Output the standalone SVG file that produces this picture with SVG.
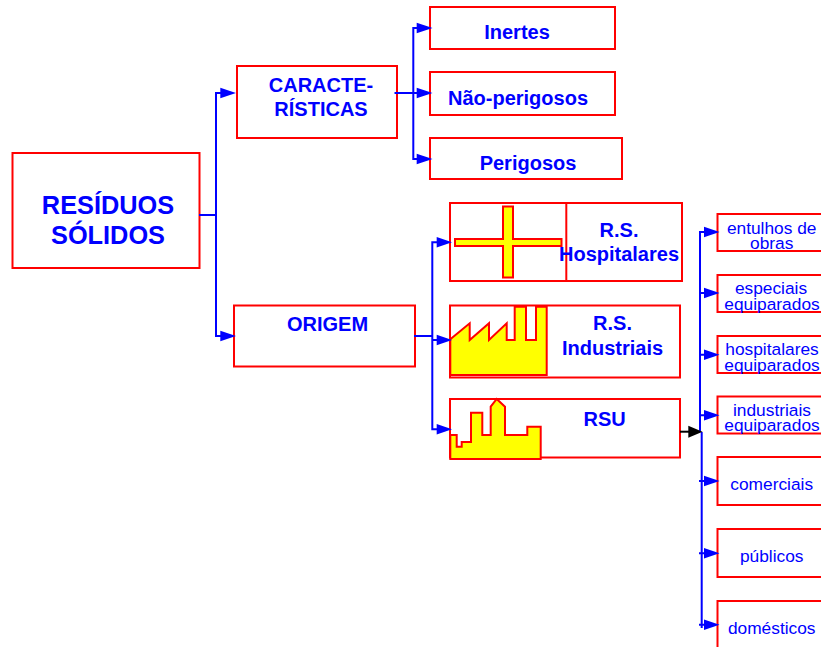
<svg xmlns="http://www.w3.org/2000/svg" width="821" height="647" viewBox="0 0 821 647">
<style>
.b{fill:#fff;stroke:#f00;stroke-width:2}
.i{fill:#ff0;stroke:#f00;stroke-width:2}
text{font-family:"Liberation Sans",Arial,sans-serif;fill:#00f;text-anchor:middle}
.h{font-weight:700;font-size:20px}
.s{font-size:17.33px}
.c path{fill:none;stroke:#00f;stroke-width:2}
.c polygon{fill:#00f}
</style>
<rect width="821" height="647" fill="#fff"/>
<g id="residuos"><rect class="b" x="12.500" y="153" width="187" height="115"/><text x="108" y="214" font-size="25.33" font-weight="700">RESÍDUOS</text><text x="108" y="244" font-size="25.33" font-weight="700">SÓLIDOS</text></g>
<g id="caracteristicas"><rect class="b" x="237" y="66" width="160" height="72"/><text class="h" x="321" y="92">CARACTE-</text><text class="h" x="321" y="116">RÍSTICAS</text></g>
<g id="origem"><rect class="b" x="234" y="305.500" width="181" height="61"/><text class="h" x="327.500" y="331">ORIGEM</text></g>
<g id="inertes"><rect class="b" x="430" y="7" width="185" height="42"/><text class="h" x="517" y="39">Inertes</text></g>
<g id="nao-perigosos"><rect class="b" x="430" y="72" width="185" height="43"/><text class="h" x="518" y="105">Não-perigosos</text></g>
<g id="perigosos"><rect class="b" x="430" y="138" width="192" height="41"/><text class="h" x="528" y="170">Perigosos</text></g>
<g id="hospitalares"><rect class="b" x="450" y="203" width="232" height="78"/><path d="M566.300 203V282" stroke="#f00" stroke-width="2" fill="none"/><polygon class="i" points="503,206.500 513,206.500 513,239 561.500,239 561.500,246 513,246 513,277.500 503,277.500 503,246 455,246 455,239 503,239"/><text class="h" x="619" y="237">R.S.</text><text class="h" x="619" y="261">Hospitalares</text></g>
<g id="industriais"><rect class="b" x="450" y="305.500" width="230" height="72"/><polygon class="i" points="450.300,339.300 469.700,323.300 469.700,340 489,323.300 489,340 506.700,323.300 506.700,340 514.700,340 514.700,306.700 526,306.700 526,340 536,340 536,306.700 546.700,306.700 546.700,375 450.300,375"/><text class="h" x="612.500" y="330">R.S.</text><text class="h" x="612.500" y="355">Industriais</text></g>
<g id="rsu"><rect class="b" x="450" y="399" width="230" height="58.500"/><polygon class="i" points="450.300,435 456.700,435 456.700,446.700 461.700,446.700 461.700,442 471,442 471,412.700 482.300,412.700 482.300,435 490.700,435 490.700,406.700 496.700,399 505,406.700 505,435 527.300,435 527.300,426.700 540.700,426.700 540.700,459 450.300,459"/><text class="h" x="604.700" y="426">RSU</text></g>
<g id="entulhos"><rect class="b" x="717.500" y="214" width="110" height="37"/><text class="s" x="771.700" y="234">entulhos de</text><text class="s" x="771.700" y="249">obras</text></g>
<g id="especiais"><rect class="b" x="717.500" y="275" width="110" height="37"/><text class="s" x="771" y="294">especiais</text><text class="s" x="772" y="309.500">equiparados</text></g>
<g id="hosp-equip"><rect class="b" x="717.500" y="336" width="110" height="37"/><text class="s" x="772" y="355">hospitalares</text><text class="s" x="772" y="370.500">equiparados</text></g>
<g id="ind-equip"><rect class="b" x="717.500" y="396.500" width="110" height="37"/><text class="s" x="772" y="415.700">industriais</text><text class="s" x="772" y="430.700">equiparados</text></g>
<g id="comerciais"><rect class="b" x="717.500" y="457" width="110" height="48"/><text class="s" x="771.700" y="490">comerciais</text></g>
<g id="publicos"><rect class="b" x="717.500" y="529" width="110" height="48"/><text class="s" x="771.700" y="562">públicos</text></g>
<g id="domesticos"><rect class="b" x="717.500" y="601" width="110" height="60"/><text class="s" x="771.700" y="633.700">domésticos</text></g>
<g id="connectors" class="c">
<path d="M199 215H216M221 93H216V336H221"/>
<polygon points="236,93 220.300,87.700 220.300,98.300"/><polygon points="236,336 220.300,330.700 220.300,341.300"/>
<path d="M394.500 93H418M418 28H413.300V159H418"/>
<polygon points="432.500,28 416.700,22.700 416.700,33.300"/><polygon points="432.500,93 416.700,87.700 416.700,98.300"/><polygon points="432.500,159 416.700,153.700 416.700,164.300"/>
<path d="M414 336H432.300M438 242.300H432.300V429.300H438M432.300 340H438"/>
<polygon points="452,242.300 436.700,237 436.700,247.600"/><polygon points="452,340 436.700,334.700 436.700,345.300"/><polygon points="452,429.300 436.700,424 436.700,434.600"/>
<path d="M705 232H700V432M701.700 432V628M699 293H705M699 354.700H705M699 415.300H705M699 481H705M699 553.300H705M699 624.700H705"/>
<polygon points="719.500,232 704,226.700 704,237.300"/><polygon points="719.500,293 704,287.700 704,298.300"/><polygon points="719.500,354.700 704,349.400 704,360"/><polygon points="719.500,415.300 704,410 704,420.600"/><polygon points="719.500,481 704,475.700 704,486.300"/><polygon points="719.500,553.300 704,548 704,558.600"/><polygon points="719.500,624.700 704,619.400 704,630"/>
<path d="M680 431.700H690" style="stroke:#000"/>
<polygon points="702.500,431.700 688.300,425.700 688.300,437.700" style="fill:#000"/>
</g>
</svg>
